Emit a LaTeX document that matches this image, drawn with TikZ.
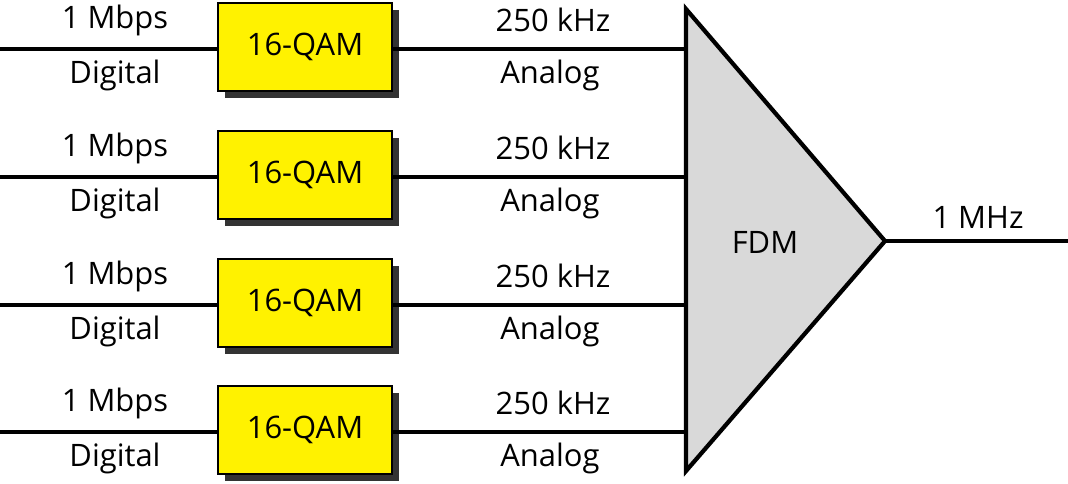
\documentclass[tikz,border=0pt]{standalone}
\usepackage{fontspec}
\setmainfont{Open Sans}
\usetikzlibrary{shadows}
\begin{document}
\begin{tikzpicture}[x=0.025cm,y=-0.025cm,
wire/.style={line width=2.2pt,black},
qam/.style={draw=black,line width=1.2pt,fill=yellow,minimum width=4.35cm,minimum height=2.2cm,font=\fontsize{22}{25}\selectfont,
  general shadow={fill=black!80,shadow xshift=0.175cm,shadow yshift=-0.175cm}},
lbl/.style={font=\fontsize{22}{25}\selectfont,text=black,inner sep=0pt}
]
\useasboundingbox (0,0) rectangle (1068,483);
% multiplexer
\coordinate (mt) at (686,9);
\coordinate (mb) at (686,471);
\coordinate (tip) at (885,241);
\filldraw[fill=black!15,line width=3pt,line join=miter] (mt) -- (tip) -- (mb) -- cycle;
\node[lbl] (fdm) at (765,242) {FDM};
\coordinate (out) at (1068,241);
\draw[wire] (tip) -- (out);
\node[lbl] (mhz) at (978,217) {1 MHz};
% inputs
\coordinate (in1) at (0,49);
\coordinate (in2) at (0,177);
\coordinate (in3) at (0,305);
\coordinate (in4) at (0,432);
\coordinate (m1) at (686,49);
\coordinate (m2) at (686,177);
\coordinate (m3) at (686,305);
\coordinate (m4) at (686,432);
\node[qam] (q1) at (305,47) {16-QAM};
\node[qam] (q2) at (305,175) {16-QAM};
\node[qam] (q3) at (305,303) {16-QAM};
\node[qam] (q4) at (305,430) {16-QAM};
\draw[wire] (in1) -- (q1.west |- in1);
\draw[wire] (in2) -- (q2.west |- in2);
\draw[wire] (in3) -- (q3.west |- in3);
\draw[wire] (in4) -- (q4.west |- in4);
\draw[wire] (q1.east |- m1) -- (m1);
\draw[wire] (q2.east |- m2) -- (m2);
\draw[wire] (q3.east |- m3) -- (m3);
\draw[wire] (q4.east |- m4) -- (m4);
% labels
\node[lbl] (r1) at (115,20) {1 Mbps};
\node[lbl] (d1) at (115,75) {Digital};
\node[lbl] (k1) at (553,20) {250 kHz};
\node[lbl] (a1) at (550,75) {Analog};
\node[lbl] (r2) at (115,148) {1 Mbps};
\node[lbl] (d2) at (115,203) {Digital};
\node[lbl] (k2) at (553,148) {250 kHz};
\node[lbl] (a2) at (550,203) {Analog};
\node[lbl] (r3) at (115,276) {1 Mbps};
\node[lbl] (d3) at (115,331) {Digital};
\node[lbl] (k3) at (553,276) {250 kHz};
\node[lbl] (a3) at (550,331) {Analog};
\node[lbl] (r4) at (115,403) {1 Mbps};
\node[lbl] (d4) at (115,458) {Digital};
\node[lbl] (k4) at (553,403) {250 kHz};
\node[lbl] (a4) at (550,458) {Analog};
\end{tikzpicture}
\end{document}
